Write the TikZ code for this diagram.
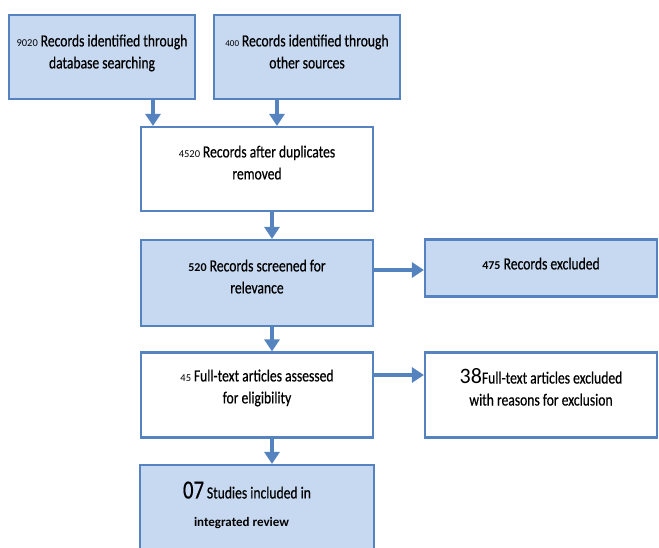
\documentclass[tikz,border=0pt]{standalone}
\usepackage{fontspec}
\setmainfont{Carlito}[FakeStretch=0.8,FakeBold=0.5]
\newfontfamily\numfont{Carlito}
\usetikzlibrary{arrows.meta}
\definecolor{boxblue}{HTML}{C6D9F1}
\definecolor{edgeblue}{HTML}{5483BF}
\newcommand{\cnt}[2]{{\numfont\fontsize{#1}{#1}\selectfont #2}}
\begin{document}
\begin{tikzpicture}[
    x=1pt, y=-1pt,
    box/.style={rectangle, draw=edgeblue, line width=2.2pt, fill=boxblue,
        align=center, inner sep=0pt, font=\fontsize{17}{22}\selectfont},
    plain/.style={box, fill=white},
    flow/.style={draw=edgeblue, line width=3.4pt,
        -{Triangle[width=15pt,length=12pt]}}
]
\useasboundingbox (0,0) rectangle (659,547);

\node[box, minimum width=186pt, minimum height=84pt, text depth=11pt] (db) at (102,57)
    {\cnt{10.5}{9020}\,Records identified through\\database searching};
\node[box, minimum width=186pt, minimum height=84pt, text depth=11pt] (oth) at (307,57)
    {\cnt{9}{400}\,Records identified through\\other sources};
\node[plain, minimum width=232pt, minimum height=84pt, text depth=13pt] (dup) at (257,169)
    {\cnt{10.5}{4520}\,Records after duplicates\\removed};
\node[box, minimum width=232pt, minimum height=86pt, text depth=13pt] (scr) at (257,283)
    {\cnt{12}{\bfseries 520} Records screened for\\relevance};
\node[box, minimum width=232pt, minimum height=57pt, text depth=9pt] (exc) at (541,268)
    {\cnt{12}{\bfseries 475} Records excluded};
\node[plain, minimum width=232pt, minimum height=85pt, text depth=17pt] (full) at (257,395)
    {\cnt{10.5}{45}\,Full-text articles assessed\\for eligibility};
\node[plain, minimum width=232pt, minimum height=85pt, text depth=16pt] (fexc) at (541,395)
    {\cnt{22}{38}Full-text articles excluded\\with reasons for exclusion};
\node[box, minimum width=234pt, minimum height=100pt, text depth=22pt, align=left] (inc) at (257,515)
    {{\fontsize{26}{26}\selectfont 07}\,Studies included in\hspace*{20pt}\\[6pt]%
     \hspace*{11pt}\cnt{13}{\bfseries integrated review}};

\draw[flow] ([xshift=51pt]db.south) -- ([xshift=51pt]db.south |- dup.north);
\draw[flow] ([xshift=-30pt]oth.south) -- ([xshift=-30pt]oth.south |- dup.north);
\draw[flow] ([xshift=15pt]dup.south) -- ([xshift=15pt]dup.south |- scr.north);
\draw[flow] ([xshift=15pt]scr.south) -- ([xshift=15pt]scr.south |- full.north);
\draw[flow] ([xshift=15pt]full.south) -- ([xshift=15pt]full.south |- inc.north);
\draw[flow] ([yshift=13pt]scr.east) -- ([yshift=13pt]scr.east -| exc.west);
\draw[flow] ([yshift=20pt]full.east) -- ([yshift=20pt]full.east -| fexc.west);
\end{tikzpicture}
\end{document}
